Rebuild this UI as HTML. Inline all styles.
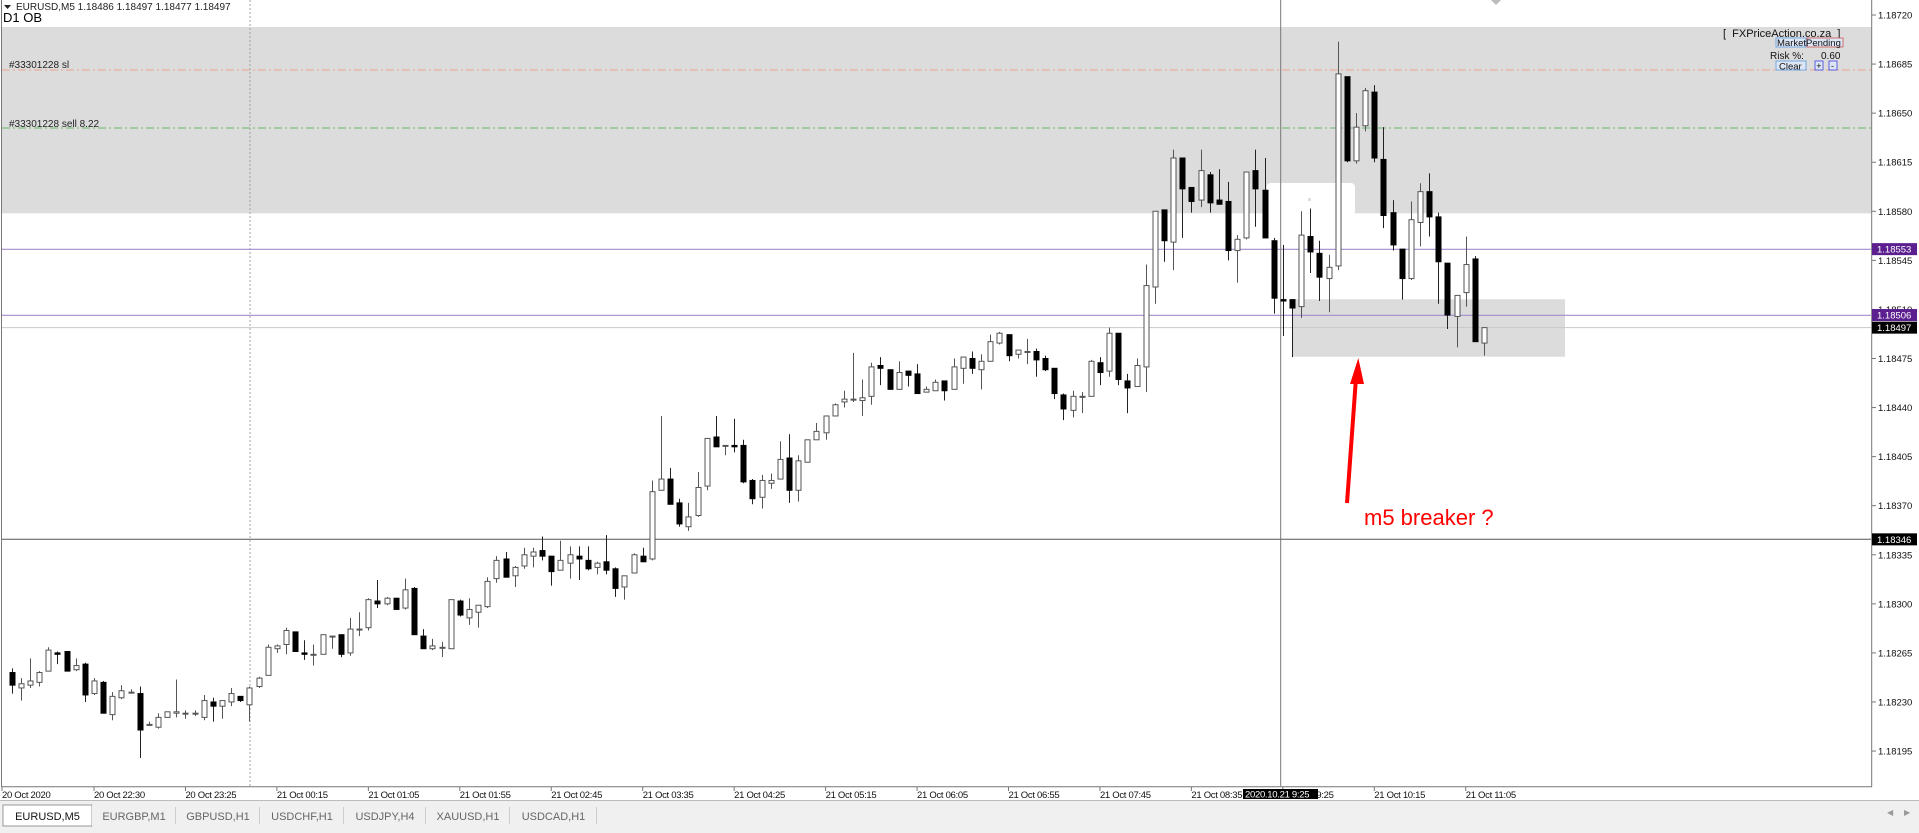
<!DOCTYPE html>
<html><head><meta charset="utf-8">
<style>
html,body{margin:0;padding:0;background:#fff;width:1919px;height:833px;overflow:hidden;font-family:"Liberation Sans",sans-serif;}
svg{display:block}
</style></head>
<body>
<svg id="chart" width="1919" height="833" xmlns="http://www.w3.org/2000/svg" font-family="Liberation Sans, sans-serif">
  <rect x="0" y="0" width="1919" height="833" fill="#fff"/>
  <rect x="2" y="27" width="1870" height="186.3" fill="#dcdcdc"/>
  <rect x="1266.7" y="183" width="88.3" height="32" rx="4" fill="#fff"/>
  <rect x="1308" y="198" width="3" height="3" fill="#ddd"/>
  <rect x="1293" y="299.3" width="272" height="57.4" fill="#dcdcdc"/>
  <line x1="250" y1="0" x2="250" y2="786" stroke="#a0a0a0" stroke-dasharray="2,2"/>
  <line x1="2" y1="70" x2="1871" y2="70" stroke="#eba58a" stroke-dasharray="8,3,2,3"/>
  <line x1="2" y1="128" x2="1871" y2="128" stroke="#6cb86c" stroke-dasharray="8,3,2,3"/>
  <text x="9" y="68" font-size="10" fill="#222">#33301228 sl</text>
  <text x="9" y="127" font-size="10" fill="#222">#33301228 sell 8.22</text>
  <line x1="2" y1="249.3" x2="1871" y2="249.3" stroke="#a58bd0" stroke-width="1.2"/>
  <line x1="2" y1="315.3" x2="1871" y2="315.3" stroke="#a58bd0" stroke-width="1.2"/>
  <line x1="2" y1="327.6" x2="1871" y2="327.6" stroke="#c8c8c8"/>
  <line x1="2" y1="539.3" x2="1871" y2="539.3" stroke="#555"/>
  <line x1="1280.7" y1="0" x2="1280.7" y2="786" stroke="#777"/>
  <g id="candles"></g>
  <line x1="1.5" y1="0" x2="1.5" y2="787" stroke="#777"/>
  <line x1="1.5" y1="786.7" x2="1872" y2="786.7" stroke="#777"/>
  <line x1="1871.7" y1="0" x2="1871.7" y2="787" stroke="#777"/>
  <g id="yaxis"></g>
  <g id="xaxis"></g>
  <polygon points="1491,0 1501,0 1496,5" fill="#bbb"/>
  <text x="16" y="10" font-size="10" fill="#222">EURUSD,M5  1.18486 1.18497 1.18477 1.18497</text>
  <polygon points="4,5 11,5 7.5,9" fill="#222"/>
  <text x="3" y="22" font-size="13" fill="#000">D1 OB</text>
  <text x="1723" y="37" font-size="11" fill="#111" xml:space="preserve">[  FXPriceAction.co.za  ]</text>
  <rect x="1776" y="38" width="30" height="9" fill="#dde6f5" stroke="#5a9ae0" stroke-width="0.8"/>
  <text x="1777" y="46" font-size="9.5" fill="#111">Market</text>
  <rect x="1807" y="38" width="36" height="9" fill="#dde6f5" stroke="#d05050" stroke-width="0.8"/>
  <text x="1806" y="46" font-size="9.5" fill="#111">Pending</text>
  <text x="1770" y="59" font-size="10" fill="#111">Risk %:</text>
  <text x="1821" y="59" font-size="10" fill="#111">0.60</text>
  <rect x="1776" y="61" width="30" height="9" fill="#dde6f5" stroke="#5a9ae0" stroke-width="0.8"/>
  <text x="1779" y="69.5" font-size="9.5" fill="#111">Clear</text>
  <rect x="1815" y="61" width="8" height="9" fill="#dde6f5" stroke="#4040e0" stroke-width="0.8"/>
  <text x="1816.3" y="69" font-size="9" fill="#111">+</text>
  <rect x="1829" y="61" width="8" height="9" fill="#dde6f5" stroke="#4040e0" stroke-width="0.8"/>
  <text x="1831" y="69" font-size="9" fill="#111">-</text>
  <line x1="1347" y1="503" x2="1356" y2="378" stroke="#ff0000" stroke-width="4"/>
  <polygon points="1358.3,358 1350,384 1364,384" fill="#ff0000"/>
  <text x="1364" y="525" font-size="22" fill="#ff0000">m5 breaker ?</text>
  <rect x="0" y="800" width="1919" height="33" fill="#f0f0f0"/>
  <line x1="0" y1="800.5" x2="1919" y2="800.5" stroke="#bbb"/>
  <g id="tabs"></g>
  <text x="1887" y="815" font-size="8" fill="#999">◀</text>
  <text x="1904" y="815" font-size="8" fill="#999">▶</text>
</svg>
<script>
const opens = [1.18251,1.18240,1.18242,1.18244,1.18252,1.18265,1.18266,1.18253,1.18257,1.18236,1.18244,1.18221,1.18233,1.18237,1.18236,1.18214,1.18212,1.18219,1.18222,1.18222,1.18222,1.18219,1.18230,1.18227,1.18230,1.18234,1.18228,1.18241,1.18249,1.18268,1.18271,1.18280,1.18265,1.18264,1.18264,1.18277,1.18278,1.18265,1.18282,1.18283,1.18302,1.18300,1.18304,1.18297,1.18311,1.18277,1.18268,1.18269,1.18268,1.18302,1.18290,1.18294,1.18298,1.18318,1.18332,1.18320,1.18327,1.18334,1.18338,1.18334,1.18324,1.18329,1.18334,1.18331,1.18326,1.18330,1.18325,1.18312,1.18322,1.18334,1.18332,1.18381,1.18389,1.18372,1.18355,1.18363,1.18384,1.18419,1.18413,1.18413,1.18413,1.18388,1.18376,1.18386,1.18389,1.18404,1.18381,1.18401,1.18417,1.18422,1.18434,1.18444,1.18446,1.18445,1.18448,1.18470,1.18467,1.18453,1.18466,1.18464,1.18451,1.18452,1.18459,1.18453,1.18468,1.18475,1.18467,1.18473,1.18486,1.18492,1.18478,1.18480,1.18480,1.18475,1.18468,1.18449,1.18438,1.18448,1.18448,1.18472,1.18466,1.18493,1.18459,1.18455,1.18469,1.18526,1.18581,1.18558,1.18618,1.18597,1.18588,1.18606,1.18588,1.18587,1.18552,1.18561,1.18609,1.18595,1.18559,1.18517,1.18517,1.18512,1.18562,1.18550,1.18532,1.18541,1.18676,1.18616,1.18641,1.18665,1.18617,1.18579,1.18553,1.18532,1.18572,1.18594,1.18576,1.18543,1.18505,1.18522,1.18546,1.18486];
const highs = [1.18254,1.18247,1.18261,1.18252,1.18269,1.18266,1.18266,1.18261,1.18258,1.18247,1.18245,1.18237,1.18242,1.18239,1.18241,1.18216,1.18222,1.18223,1.18246,1.18224,1.18224,1.18235,1.18233,1.18231,1.18240,1.18234,1.18241,1.18248,1.18271,1.18271,1.18283,1.18280,1.18274,1.18271,1.18278,1.18277,1.18278,1.18290,1.18294,1.18304,1.18317,1.18305,1.18304,1.18318,1.18312,1.18282,1.18275,1.18273,1.18303,1.18303,1.18304,1.18299,1.18319,1.18334,1.18337,1.18327,1.18340,1.18340,1.18348,1.18334,1.18345,1.18341,1.18341,1.18341,1.18330,1.18349,1.18326,1.18320,1.18336,1.18340,1.18388,1.18434,1.18397,1.18375,1.18372,1.18394,1.18418,1.18434,1.18413,1.18432,1.18417,1.18389,1.18392,1.18393,1.18416,1.18421,1.18406,1.18417,1.18429,1.18434,1.18443,1.18452,1.18479,1.18460,1.18472,1.18476,1.18467,1.18473,1.18466,1.18471,1.18455,1.18460,1.18459,1.18475,1.18476,1.18480,1.18478,1.18492,1.18494,1.18492,1.18481,1.18489,1.18482,1.18477,1.18468,1.18450,1.18452,1.18451,1.18474,1.18476,1.18497,1.18493,1.18464,1.18475,1.18542,1.18580,1.18581,1.18624,1.18618,1.18597,1.18624,1.18608,1.18610,1.18601,1.18563,1.18608,1.18624,1.18618,1.18561,1.18556,1.18517,1.18580,1.18582,1.18559,1.18549,1.18701,1.18676,1.18650,1.18668,1.18670,1.18640,1.18588,1.18553,1.18587,1.18600,1.18607,1.18579,1.18543,1.18520,1.18562,1.18548,1.18497];
const lows = [1.18236,1.18231,1.18240,1.18241,1.18252,1.18257,1.18252,1.18252,1.18230,1.18235,1.18222,1.18217,1.18232,1.18236,1.18190,1.18213,1.18211,1.18219,1.18219,1.18218,1.18220,1.18217,1.18216,1.18218,1.18227,1.18230,1.18216,1.18240,1.18249,1.18265,1.18264,1.18266,1.18260,1.18256,1.18264,1.18268,1.18262,1.18263,1.18277,1.18281,1.18297,1.18299,1.18296,1.18296,1.18278,1.18268,1.18267,1.18262,1.18268,1.18291,1.18285,1.18283,1.18297,1.18315,1.18319,1.18312,1.18325,1.18326,1.18331,1.18313,1.18324,1.18318,1.18317,1.18324,1.18321,1.18321,1.18305,1.18303,1.18322,1.18330,1.18331,1.18381,1.18371,1.18355,1.18352,1.18362,1.18381,1.18412,1.18406,1.18408,1.18386,1.18371,1.18368,1.18382,1.18389,1.18372,1.18373,1.18401,1.18417,1.18417,1.18434,1.18440,1.18444,1.18434,1.18442,1.18456,1.18453,1.18453,1.18455,1.18450,1.18451,1.18452,1.18445,1.18453,1.18457,1.18464,1.18453,1.18473,1.18485,1.18473,1.18475,1.18471,1.18462,1.18466,1.18446,1.18431,1.18433,1.18436,1.18448,1.18456,1.18462,1.18456,1.18436,1.18455,1.18451,1.18514,1.18544,1.18538,1.18561,1.18579,1.18583,1.18579,1.18585,1.18545,1.18529,1.18560,1.18569,1.18561,1.18507,1.18491,1.18476,1.18504,1.18536,1.18516,1.18508,1.18538,1.18615,1.18614,1.18637,1.18615,1.18568,1.18552,1.18517,1.18531,1.18555,1.18562,1.18514,1.18496,1.18483,1.18512,1.18487,1.18477];
const closes = [1.18242,1.18243,1.18245,1.18251,1.18267,1.18264,1.18252,1.18256,1.18235,1.18245,1.18222,1.18234,1.18238,1.18237,1.18210,1.18214,1.18219,1.18223,1.18223,1.18222,1.18222,1.18231,1.18227,1.18231,1.18236,1.18231,1.18240,1.18247,1.18269,1.18270,1.18281,1.18266,1.18264,1.18264,1.18278,1.18277,1.18264,1.18282,1.18282,1.18303,1.18300,1.18304,1.18296,1.18310,1.18278,1.18268,1.18270,1.18269,1.18303,1.18292,1.18296,1.18299,1.18316,1.18331,1.18319,1.18326,1.18335,1.18337,1.18334,1.18323,1.18331,1.18335,1.18332,1.18325,1.18329,1.18324,1.18311,1.18320,1.18335,1.18330,1.18380,1.18389,1.18371,1.18357,1.18362,1.18383,1.18418,1.18412,1.18413,1.18412,1.18387,1.18375,1.18388,1.18388,1.18403,1.18381,1.18402,1.18417,1.18423,1.18434,1.18442,1.18446,1.18446,1.18447,1.18469,1.18468,1.18453,1.18465,1.18463,1.18450,1.18453,1.18458,1.18452,1.18469,1.18476,1.18468,1.18473,1.18487,1.18493,1.18477,1.18481,1.18480,1.18474,1.18467,1.18450,1.18439,1.18448,1.18448,1.18473,1.18465,1.18493,1.18460,1.18454,1.18470,1.18527,1.18580,1.18559,1.18618,1.18596,1.18587,1.18609,1.18586,1.18585,1.18552,1.18560,1.18608,1.18596,1.18561,1.18518,1.18516,1.18511,1.18563,1.18551,1.18533,1.18540,1.18678,1.18616,1.18640,1.18666,1.18618,1.18577,1.18556,1.18532,1.18574,1.18594,1.18576,1.18544,1.18506,1.18520,1.18542,1.18487,1.18497];
const priceTicks = ["1.18720","1.18685","1.18650","1.18615","1.18580","1.18545","1.18510","1.18475","1.18440","1.18405","1.18370","1.18335","1.18300","1.18265","1.18230","1.18195"];
const timeLabels = ["20 Oct 2020","20 Oct 22:30","20 Oct 23:25","21 Oct 00:15","21 Oct 01:05","21 Oct 01:55","21 Oct 02:45","21 Oct 03:35","21 Oct 04:25","21 Oct 05:15","21 Oct 06:05","21 Oct 06:55","21 Oct 07:45","21 Oct 08:35","21 Oct 09:25","21 Oct 10:15","21 Oct 11:05"];
const priceMarkers = [["1.18553","#5c1f8f"],["1.18506","#5c1f8f"],["1.18497","#000"],["1.18346","#000"]];
const tabNames = ["EURUSD,M5","EURGBP,M1","GBPUSD,H1","USDCHF,H1","USDJPY,H4","XAUUSD,H1","USDCAD,H1"];

const NS = "http://www.w3.org/2000/svg";
function yScale(p){ return 15 + (1.18720 - p) / 0.00035 * 49.07; }
function xScale(i){ return 11.7 + 9.145 * i; }
function mk(tag, attrs, parent){ const e = document.createElementNS(NS, tag); for (const k in attrs) e.setAttribute(k, attrs[k]); parent.appendChild(e); return e; }

const cg = document.getElementById('candles');
for (let i = 0; i < opens.length; i++) {
  const x = Math.round(xScale(i)) + 0.5;
  const o = yScale(opens[i]), c = yScale(closes[i]), h = yScale(highs[i]), l = yScale(lows[i]);
  const bull = closes[i] >= opens[i];
  const w = mk('line', {x1:x, x2:x, y1:h, y2:l, stroke: bull ? '#555' : '#222', 'stroke-width':1}, cg);
  
  
  const top = Math.min(o, c), ht = Math.max(Math.abs(o - c), 1);
  const b = mk('rect', {x:x-2.5, y:top, width:5, height:ht, fill: bull ? '#fff' : '#000', stroke: bull ? '#555' : '#000', 'stroke-width':1}, cg);
  
  
}

const ya = document.getElementById('yaxis');
priceTicks.forEach(t => {
  const y = yScale(parseFloat(t));
  const tk = mk('line', {x1:1872, x2:1876, y1:y, y2:y, stroke:'#777'}, ya);
  
  
  const tx = mk('text', {x:1878, y:y+3.5, 'font-size':9.5, fill:'#111'}, ya);
  tx.textContent = t;
  
  
});
priceMarkers.forEach(m => {
  const y = yScale(parseFloat(m[0]));
  const r = mk('rect', {x:1872, y:y-6, width:45, height:12, fill:m[1]}, ya);
  
  
  const tx = mk('text', {x:1877, y:y+3.5, 'font-size':9.5, fill:'#fff'}, ya);
  tx.textContent = m[0];
  
  
});

const xa = document.getElementById('xaxis');
timeLabels.forEach((t, k) => {
  const x = k === 0 ? 2 : xScale(10 * k - 1);
  const tk = mk('line', {x1:x, x2:x, y1:787, y2:791, stroke:'#777'}, xa);
  
  
  const tx = mk('text', {x:x, y:798, 'font-size':9.5, fill:'#111', 'letter-spacing':'-0.3'}, xa);
  tx.textContent = t;
  
  
});
const cr = mk('rect', {x:1243, y:789, width:75, height:10, fill:'#000'}, xa);


const ct = mk('text', {x:1245, y:797.5, 'font-size':9.5, fill:'#fff', 'letter-spacing':'-0.3'}, xa);
ct.textContent = '2020.10.21 9:25';



const tg = document.getElementById('tabs');
const tabX = [3, 92, 176, 260, 344, 426, 510, 597];
tabNames.forEach((n, i) => {
  const x0 = tabX[i], x1 = tabX[i+1];
  const r = mk('rect', {x:x0, y:805, width:x1-x0, height:21, fill: i === 0 ? '#fff' : '#f0f0f0', stroke: i === 0 ? '#999' : 'none'}, tg);
  
  
  if (i > 0) {
    const s = mk('line', {x1:x1-0.5, x2:x1-0.5, y1:807, y2:824, stroke:'#ccc'}, tg);
    
    
  }
  const tx = mk('text', {x:(x0+x1)/2, y:820, 'font-size':11, fill: i === 0 ? '#111' : '#666', 'text-anchor':'middle'}, tg);
  tx.textContent = n;
  
  
});
</script>
</body></html>
